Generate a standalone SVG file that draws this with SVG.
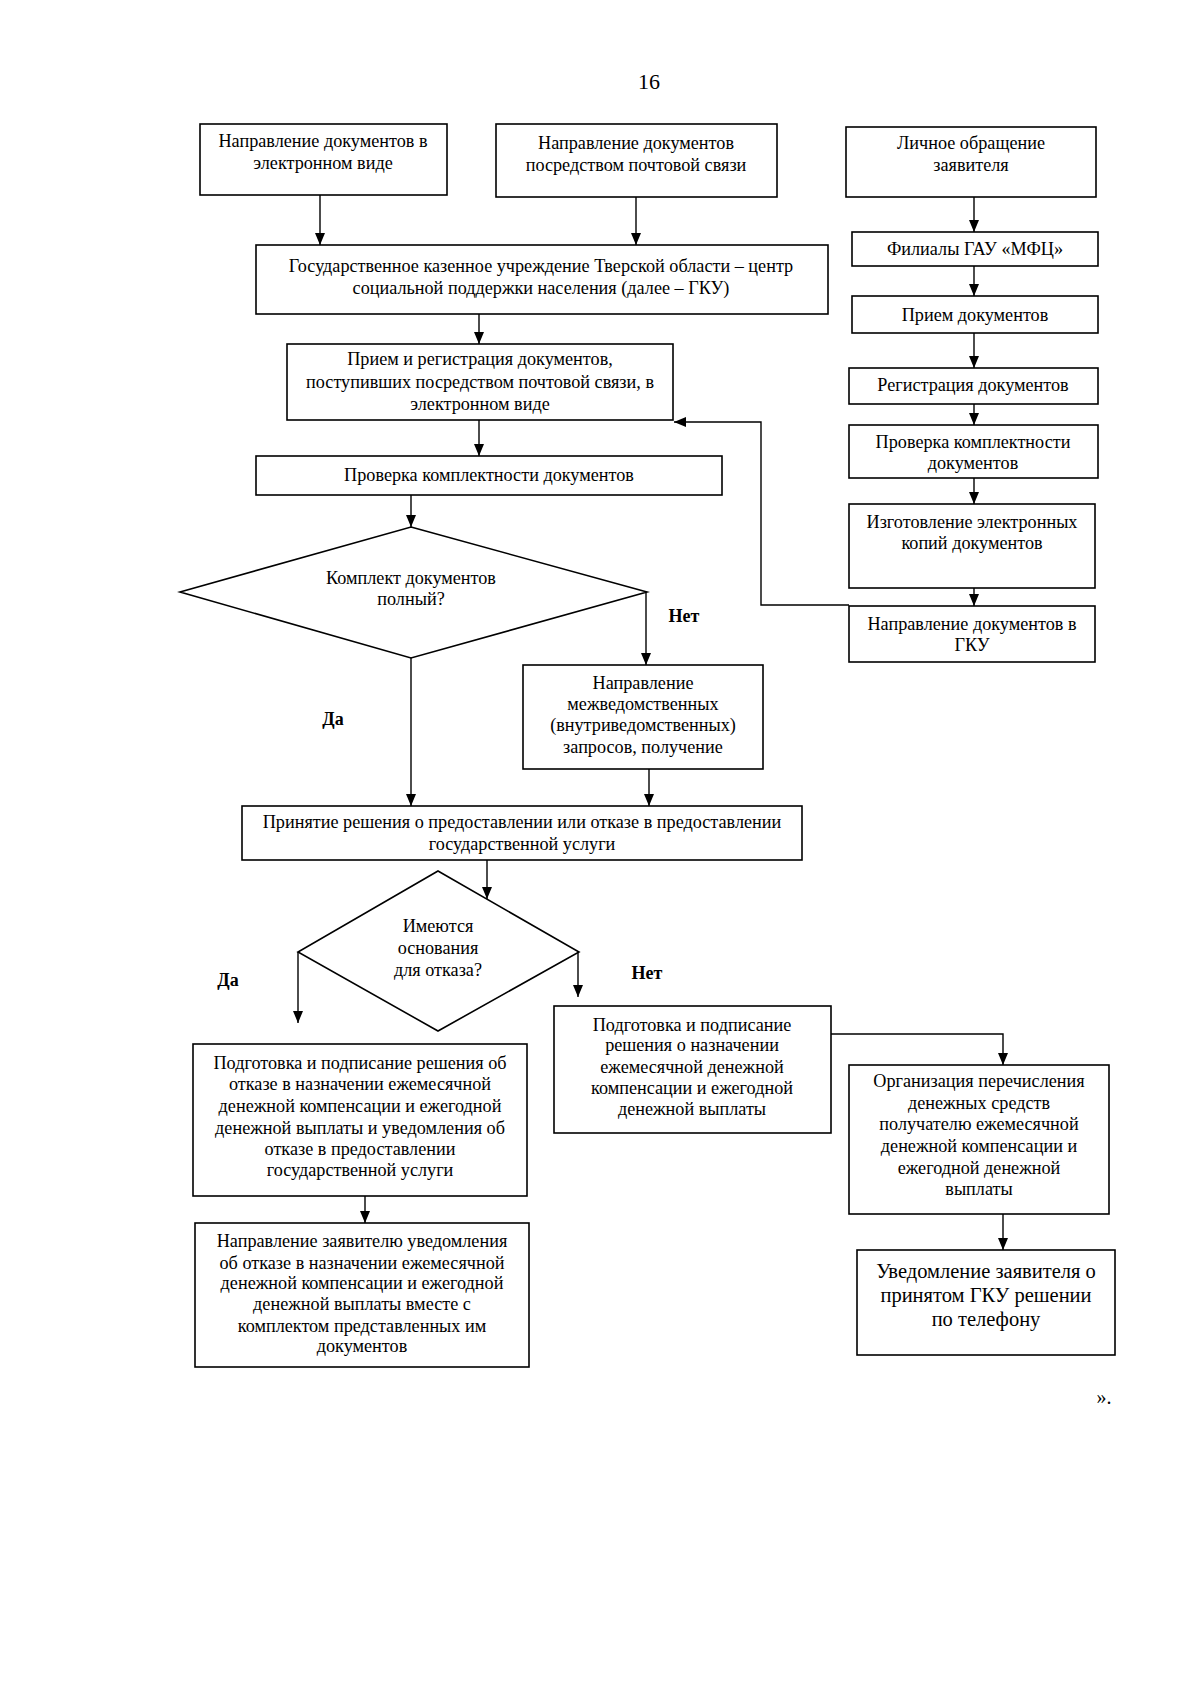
<svg xmlns="http://www.w3.org/2000/svg" width="1200" height="1697" viewBox="0 0 1200 1697">
<defs>
<marker id="ah" viewBox="0 0 12 10" refX="12" refY="5" markerWidth="12" markerHeight="10" markerUnits="userSpaceOnUse" orient="auto">
<path d="M0,0 L12,5 L0,10 z" fill="#000"/>
</marker>
<style>
rect, polygon { fill: #fff; stroke: #000; stroke-width: 1.6; }
.c path { fill: none; stroke: #000; stroke-width: 1.4; }
.a { marker-end: url(#ah); }
text { font-family: "Liberation Serif", "Times New Roman", serif; font-size: 18.2px; fill: #000; text-anchor: middle; }
.b { font-weight: bold; font-size: 18px; }
.big { font-size: 20.5px; }
</style>
</defs>
<rect x="0" y="0" width="1200" height="1697" style="fill:#fff;stroke:none"/>
<text x="649" y="89" style="font-size:22px">16</text>

<g class="c" id="connectors">
<path class="a" d="M320,195 V245"/>
<path class="a" d="M636,197 V245"/>
<path class="a" d="M974,197 V232"/>
<path class="a" d="M974,266 V296"/>
<path class="a" d="M974,333 V368"/>
<path class="a" d="M974,404 V425"/>
<path class="a" d="M974,478 V504"/>
<path class="a" d="M974,588 V606"/>
<path class="a" d="M849,605 H761 V422 H674"/>
<path class="a" d="M479,314 V344"/>
<path class="a" d="M479,420 V456"/>
<path class="a" d="M411,495 V527"/>
<path class="a" d="M646,592 V665"/>
<path class="a" d="M411,658 V806"/>
<path class="a" d="M649,769 V806"/>
<path class="a" d="M487,860 V899"/>
<path class="a" d="M298,952 V1023"/>
<path class="a" d="M578,952 V997"/>
<path class="a" d="M365,1196 V1223"/>
<path class="a" d="M831,1034 H1003 V1065"/>
<path class="a" d="M1003,1214 V1250"/>
</g>

<g id="n1"><rect x="200" y="124" width="247" height="71"/>
<text x="323" y="147">Направление документов в</text><text x="323" y="169">электронном виде</text></g>

<g id="n2"><rect x="496" y="124" width="281" height="73"/>
<text x="636" y="149">Направление документов</text><text x="636" y="171">посредством почтовой связи</text></g>

<g id="n3"><rect x="846" y="127" width="250" height="70"/>
<text x="971" y="149">Личное обращение</text><text x="971" y="171">заявителя</text></g>

<g id="n4"><rect x="256" y="245" width="572" height="69"/>
<text x="541" y="272">Государственное казенное учреждение Тверской области – центр</text>
<text x="541" y="294">социальной поддержки населения (далее – ГКУ)</text></g>

<g id="n5"><rect x="852" y="232" width="246" height="34"/>
<text x="975" y="255">Филиалы ГАУ «МФЦ»</text></g>

<g id="n6"><rect x="852" y="296" width="246" height="37"/>
<text x="975" y="321">Прием документов</text></g>

<g id="n7"><rect x="849" y="368" width="249" height="36"/>
<text x="973" y="391">Регистрация документов</text></g>

<g id="n8"><rect x="849" y="425" width="249" height="53"/>
<text x="973" y="448">Проверка комплектности</text><text x="973" y="469">документов</text></g>

<g id="n9"><rect x="849" y="504" width="246" height="84"/>
<text x="972" y="528">Изготовление электронных</text><text x="972" y="549">копий документов</text></g>

<g id="n10"><rect x="849" y="606" width="246" height="56"/>
<text x="972" y="630">Направление документов в</text><text x="972" y="651">ГКУ</text></g>

<g id="n11"><rect x="287" y="344" width="386" height="76"/>
<text x="480" y="365">Прием и регистрация документов,</text>
<text x="480" y="388">поступивших посредством почтовой связи, в</text>
<text x="480" y="410">электронном виде</text></g>

<g id="n12"><rect x="256" y="456" width="466" height="39"/>
<text x="489" y="481">Проверка комплектности документов</text></g>

<g id="d1"><polygon points="411,527 647,592 411,658 180,592"/>
<text x="411" y="584">Комплект документов</text><text x="411" y="605">полный?</text></g>

<text class="b" x="684" y="622">Нет</text>
<text class="b" x="333" y="725">Да</text>

<g id="n13"><rect x="523" y="665" width="240" height="104"/>
<text x="643" y="689">Направление</text><text x="643" y="710">межведомственных</text>
<text x="643" y="731">(внутриведомственных)</text><text x="643" y="753">запросов, получение</text></g>

<g id="n14"><rect x="242" y="806" width="560" height="54"/>
<text x="522" y="828">Принятие решения о предоставлении или отказе в предоставлении</text>
<text x="522" y="850">государственной услуги</text></g>

<g id="d2"><polygon points="438,871 579,952 438,1031 298,952"/>
<text x="438" y="932">Имеются</text><text x="438" y="954">основания</text><text x="438" y="976">для отказа?</text></g>

<text class="b" x="228" y="986">Да</text>
<text class="b" x="647" y="979">Нет</text>

<g id="n15"><rect x="193" y="1044" width="334" height="152"/>
<text x="360" y="1069">Подготовка и подписание решения об</text>
<text x="360" y="1090">отказе в назначении ежемесячной</text>
<text x="360" y="1112">денежной компенсации и ежегодной</text>
<text x="360" y="1134">денежной выплаты и уведомления об</text>
<text x="360" y="1155">отказе в предоставлении</text>
<text x="360" y="1176">государственной услуги</text></g>

<g id="n16"><rect x="554" y="1006" width="277" height="127"/>
<text x="692" y="1031">Подготовка и подписание</text>
<text x="692" y="1051">решения о назначении</text>
<text x="692" y="1073">ежемесячной денежной</text>
<text x="692" y="1094">компенсации и ежегодной</text>
<text x="692" y="1115">денежной выплаты</text></g>

<g id="n17"><rect x="849" y="1065" width="260" height="149"/>
<text x="979" y="1087">Организация перечисления</text>
<text x="979" y="1109">денежных средств</text>
<text x="979" y="1130">получателю ежемесячной</text>
<text x="979" y="1152">денежной компенсации и</text>
<text x="979" y="1174">ежегодной денежной</text>
<text x="979" y="1195">выплаты</text></g>

<g id="n18"><rect x="857" y="1250" width="258" height="105"/>
<text class="big" x="986" y="1278">Уведомление заявителя о</text>
<text class="big" x="986" y="1302">принятом ГКУ решении</text>
<text class="big" x="986" y="1326">по телефону</text></g>

<g id="n19"><rect x="195" y="1223" width="334" height="144"/>
<text x="362" y="1247">Направление заявителю уведомления</text>
<text x="362" y="1269">об отказе в назначении ежемесячной</text>
<text x="362" y="1289">денежной компенсации и ежегодной</text>
<text x="362" y="1310">денежной выплаты вместе с</text>
<text x="362" y="1332">комплектом представленных им</text>
<text x="362" y="1352">документов</text></g>

<text x="1104" y="1404" style="font-size:20px">».</text>
</svg>
